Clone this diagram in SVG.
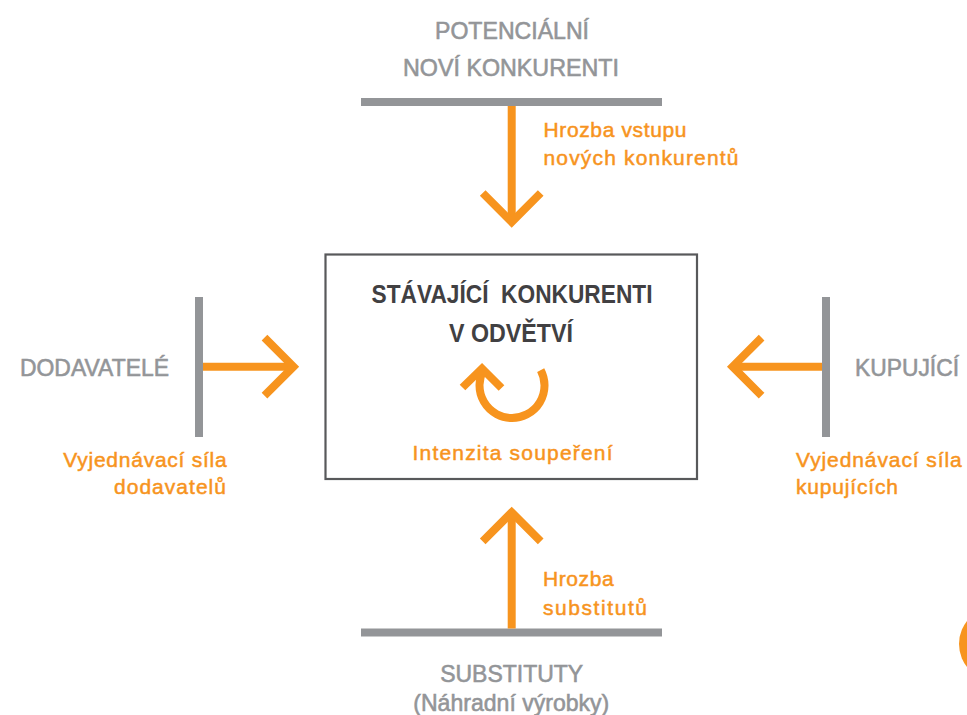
<svg xmlns="http://www.w3.org/2000/svg" width="967" height="715" viewBox="0 0 967 715">
  <style>
    .gray { font-family: "Liberation Sans", Arial, sans-serif; font-size: 24.5px; fill: #939598; stroke: #939598; stroke-width: 0.6; }
    .org { font-family: "Liberation Sans", Arial, sans-serif; font-size: 21px; fill: #F7941E; stroke: #F7941E; stroke-width: 0.5; }
    .dark { font-family: "Liberation Sans", Arial, sans-serif; font-size: 25px; font-weight: bold; fill: #414042; }
    .bar { fill: #939598; }
    .arr { fill: none; stroke: #F7941E; stroke-width: 8; stroke-linejoin: miter; stroke-linecap: butt; }
  </style>
  <rect width="967" height="715" fill="#ffffff"/>

  <g id="potential-entrants">
    <text class="gray" x="512" y="39" text-anchor="middle" textLength="154" lengthAdjust="spacingAndGlyphs">POTENCIÁLNÍ</text>
    <text class="gray" x="511" y="76" text-anchor="middle" textLength="216" lengthAdjust="spacingAndGlyphs">NOVÍ KONKURENTI</text>
    <rect class="bar" x="361" y="98" width="301" height="8"/>
  </g>

  <g id="rivalry">
    <rect x="325.5" y="254.5" width="371.5" height="224.5" fill="none" stroke="#58595B" stroke-width="2.2"/>
    <text class="dark" x="512" y="303" text-anchor="middle" textLength="281" lengthAdjust="spacingAndGlyphs" xml:space="preserve">STÁVAJÍCÍ  KONKURENTI</text>
    <text class="dark" x="511" y="341.5" text-anchor="middle" textLength="124" lengthAdjust="spacingAndGlyphs">V ODVĚTVÍ</text>
    <path class="arr" d="M 540.7 370.2 A 32.5 32.5 0 1 1 483.6 369.7" stroke-width="7.5"/>
    <polyline class="arr" points="462.5,387.5 482,368.5 501.5,388" stroke-width="7.5"/>
    <text class="org" x="412.5" y="459.5" textLength="200">Intenzita soupeření</text>
  </g>

  <g id="suppliers">
    <rect class="bar" x="195" y="297" width="8" height="140"/>
    <text class="gray" x="20" y="376" textLength="149" lengthAdjust="spacingAndGlyphs">DODAVATELÉ</text>
  </g>

  <g id="buyers">
    <rect class="bar" x="822" y="297" width="8" height="140"/>
    <text class="gray" x="855" y="376" textLength="104" lengthAdjust="spacingAndGlyphs">KUPUJÍCÍ</text>
  </g>

  <g id="substitutes">
    <rect class="bar" x="361" y="628.5" width="301" height="8"/>
    <text class="gray" x="511.7" y="681.7" text-anchor="middle" textLength="143" lengthAdjust="spacingAndGlyphs">SUBSTITUTY</text>
    <text class="gray" x="511.3" y="711" text-anchor="middle" textLength="196" lengthAdjust="spacingAndGlyphs">(Náhradní výrobky)</text>
  </g>

  <g id="connectors">
    <line class="arr" x1="511.7" y1="106" x2="511.7" y2="222"/>
    <polyline class="arr" points="482.7,193 511.7,222 540.7,193"/>
    <line class="arr" x1="511.7" y1="628.5" x2="511.7" y2="512.3"/>
    <polyline class="arr" points="482.7,541.3 511.7,512.3 540.7,541.3"/>
    <line class="arr" x1="203" y1="366.7" x2="293.5" y2="366.7"/>
    <polyline class="arr" points="264.5,337.7 293.5,366.7 264.5,395.7"/>
    <line class="arr" x1="822" y1="366.7" x2="732.6" y2="366.7"/>
    <polyline class="arr" points="761.6,337.7 732.6,366.7 761.6,395.7"/>
  </g>

  <g id="labels">
    <text class="org" x="543.5" y="136.5" textLength="143">Hrozba vstupu</text>
    <text class="org" x="543.5" y="165" textLength="195">nových konkurentů</text>
    <text class="org" x="63.3" y="467.3" textLength="163.4">Vyjednávací síla</text>
    <text class="org" x="226" y="494" text-anchor="end" textLength="112">dodavatelů</text>
    <text class="org" x="796" y="467.3" textLength="165.7">Vyjednávací síla</text>
    <text class="org" x="796" y="493.5" textLength="102">kupujících</text>
    <text class="org" x="543" y="586" textLength="70.6">Hrozba</text>
    <text class="org" x="543" y="615" textLength="104">substitutů</text>
  </g>

  <circle cx="996" cy="644" r="37" fill="#F7941E"/>
</svg>
